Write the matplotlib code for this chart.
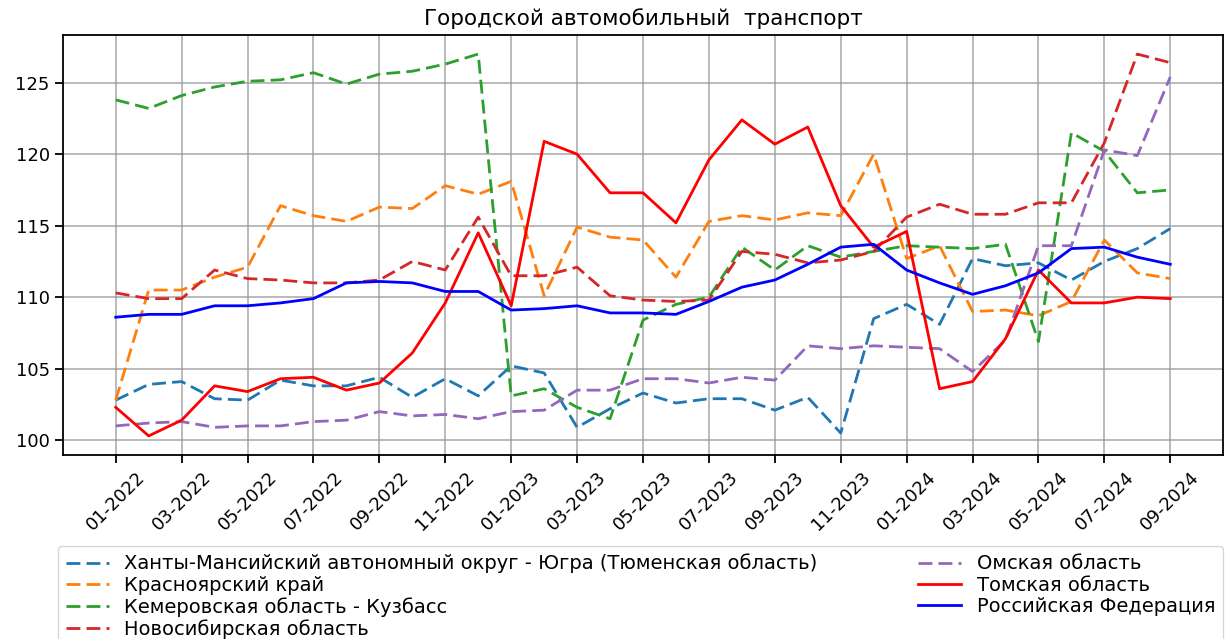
import matplotlib
matplotlib.use('Agg')
import matplotlib.pyplot as plt

# ====================== данные (индексы, 01-2022 ... 09-2024) ======================
months = ['%02d-%d' % (m, y) for y in (2022, 2023, 2024) for m in range(1, 13)][:33]

khmao = [102.8, 103.9, 104.1, 102.9, 102.8, 104.2, 103.8, 103.8, 104.4, 103.0,
         104.3, 103.1, 105.2, 104.7, 100.9, 102.2, 103.3, 102.6, 102.9, 102.9,
         102.1, 103.0, 100.5, 108.5, 109.5, 108.1, 112.7, 112.2, 112.4, 111.2,
         112.5, 113.4, 114.8]
krasnoyarsk = [102.8, 110.5, 110.5, 111.4, 112.1, 116.4, 115.7, 115.3, 116.3, 116.2,
               117.8, 117.2, 118.1, 110.1, 114.9, 114.2, 114.0, 111.4, 115.3, 115.7,
               115.4, 115.9, 115.7, 120.0, 112.7, 113.6, 109.0, 109.1, 108.7, 109.7,
               114.0, 111.7, 111.3]
kemerovo = [123.8, 123.2, 124.1, 124.7, 125.1, 125.2, 125.7, 124.9, 125.6, 125.8,
            126.3, 127.0, 103.1, 103.6, 102.3, 101.5, 108.4, 109.5, 110.0, 113.5,
            111.9, 113.6, 112.8, 113.2, 113.6, 113.5, 113.4, 113.7, 106.9, 121.5,
            120.2, 117.3, 117.5]
novosibirsk = [110.3, 109.9, 109.9, 111.9, 111.3, 111.2, 111.0, 111.0, 111.2, 112.5,
               111.9, 115.6, 111.5, 111.5, 112.1, 110.1, 109.8, 109.7, 109.8, 113.2,
               113.0, 112.4, 112.6, 113.2, 115.6, 116.5, 115.8, 115.8, 116.6, 116.6,
               120.8, 127.0, 126.4]
omsk = [101.0, 101.2, 101.3, 100.9, 101.0, 101.0, 101.3, 101.4, 102.0, 101.7,
        101.8, 101.5, 102.0, 102.1, 103.5, 103.5, 104.3, 104.3, 104.0, 104.4,
        104.2, 106.6, 106.4, 106.6, 106.5, 106.4, 104.8, 107.0, 113.6, 113.6,
        120.3, 119.9, 125.4]
tomsk = [102.3, 100.3, 101.4, 103.8, 103.4, 104.3, 104.4, 103.5, 104.0, 106.1,
         109.6, 114.5, 109.4, 120.9, 120.0, 117.3, 117.3, 115.2, 119.6, 122.4,
         120.7, 121.9, 116.4, 113.5, 114.6, 103.6, 104.1, 107.1, 111.9, 109.6,
         109.6, 110.0, 109.9]
russia = [108.6, 108.8, 108.8, 109.4, 109.4, 109.6, 109.9, 111.0, 111.1, 111.0,
          110.4, 110.4, 109.1, 109.2, 109.4, 108.9, 108.9, 108.8, 109.7, 110.7,
          111.2, 112.3, 113.5, 113.7, 111.9, 111.0, 110.2, 110.8, 111.7, 113.4,
          113.5, 112.8, 112.3]

labels = ['Ханты-Мансийский автономный округ - Югра (Тюменская область)',
          'Красноярский край',
          'Кемеровская область - Кузбасс',
          'Новосибирская область',
          'Омская область',
          'Томская область',
          'Российская Федерация']

plt.rcParams['font.family'] = ['DejaVu Sans']

fig = plt.figure(figsize=(12.25, 6.39), dpi=100)
ax = fig.add_axes([63 / 1225, 1 - 455 / 639, (1223 - 63) / 1225, (455 - 35) / 639])

x = list(range(len(months)))
series = [khmao, krasnoyarsk, kemerovo, novosibirsk, omsk]
colors = ['tab:blue', 'tab:orange', 'tab:green', 'tab:red', 'tab:purple']
for vals, c, lab in zip(series, colors, labels[:5]):
    ax.plot(x, vals, '--', color=c, lw=2, dashes=(5, 2.2), label=lab)
ax.plot(x, tomsk, '-', color='red', lw=2, label=labels[5])
ax.plot(x, russia, '-', color='blue', lw=2, label=labels[6])

ax.set_xticks(x[::2])
ax.set_xticklabels(months[::2], rotation=45, fontsize=13)
ax.set_yticks([100, 105, 110, 115, 120, 125])
ax.tick_params(axis='y', labelsize=13, length=6, width=1.3)
ax.tick_params(axis='x', length=6, width=1.3)
ax.grid(True, color='#999999', lw=1.2, alpha=0.8)
for s in ax.spines.values():
    s.set_linewidth(1.3)

ax.set_title('Городской автомобильный  транспорт', fontsize=15.5, pad=7)

fig.legend(loc='upper left', bbox_to_anchor=(58 / 1225, 1 - 546 / 639),
           borderaxespad=0, ncol=2, fontsize=14, labelspacing=0.12,
           columnspacing=5.2, handlelength=2.2, frameon=True, fancybox=True)

fig.savefig('out.png', dpi=100)
